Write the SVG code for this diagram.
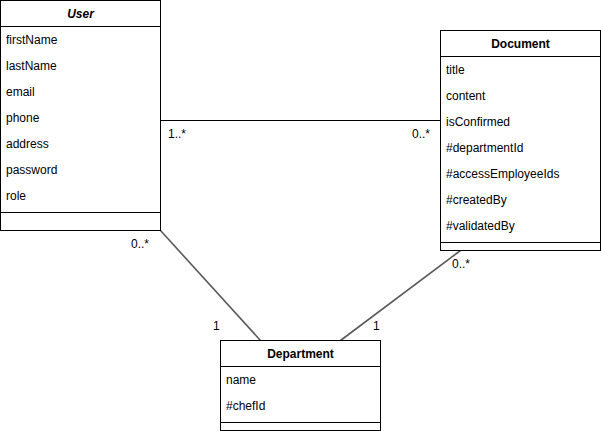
<svg xmlns="http://www.w3.org/2000/svg" width="601" height="431" viewBox="0 0 601 431">
<style>
.box{fill:#fff;stroke:#000;stroke-width:1}
.sep{stroke:#000;stroke-width:1}
.t{font-family:"Liberation Sans",Arial,sans-serif;font-size:12px;fill:#000}
.title{font-weight:bold;text-anchor:middle}
.conn{stroke:#000;stroke-width:1;fill:none}
.diag{stroke:#5a5a5a;stroke-width:1.6}
</style>
<rect width="601" height="431" fill="#fff"/>
<g id="connectors">
<line class="conn" x1="160.5" y1="120.5" x2="440.5" y2="120.5"/>
<line class="conn diag" x1="160.5" y1="230.5" x2="260.5" y2="340.5"/>
<line class="conn diag" x1="460.5" y1="250.5" x2="340.5" y2="340.5"/>
<text class="t" x="168" y="138">1..*</text>
<text class="t" x="412" y="138">0..*</text>
<text class="t" x="131" y="248">0..*</text>
<text class="t" x="213" y="330">1</text>
<text class="t" x="373" y="330">1</text>
<text class="t" x="452" y="268">0..*</text>
</g>
<g id="user">
<rect class="box" x="0.5" y="0.5" width="160" height="230"/>
<line class="sep" x1="0.5" y1="26.5" x2="160.5" y2="26.5"/>
<line class="sep" x1="0.5" y1="212.5" x2="160.5" y2="212.5"/>
<text class="t title" x="80.5" y="18" font-style="italic">User</text>
<text class="t" x="6" y="44">firstName</text>
<text class="t" x="6" y="70">lastName</text>
<text class="t" x="6" y="96">email</text>
<text class="t" x="6" y="122">phone</text>
<text class="t" x="6" y="148">address</text>
<text class="t" x="6" y="174">password</text>
<text class="t" x="6" y="200">role</text>
</g>
<g id="document">
<rect class="box" x="440.5" y="30.5" width="160" height="220"/>
<line class="sep" x1="440.5" y1="56.5" x2="600.5" y2="56.5"/>
<line class="sep" x1="440.5" y1="242.5" x2="600.5" y2="242.5"/>
<text class="t title" x="520.5" y="48">Document</text>
<text class="t" x="446" y="74">title</text>
<text class="t" x="446" y="100">content</text>
<text class="t" x="446" y="126">isConfirmed</text>
<text class="t" x="446" y="152">#departmentId</text>
<text class="t" x="446" y="178">#accessEmployeeIds</text>
<text class="t" x="446" y="204">#createdBy</text>
<text class="t" x="446" y="230">#validatedBy</text>
</g>
<g id="department">
<rect class="box" x="220.5" y="340.5" width="160" height="90"/>
<line class="sep" x1="220.5" y1="366.5" x2="380.5" y2="366.5"/>
<line class="sep" x1="220.5" y1="422.5" x2="380.5" y2="422.5"/>
<text class="t title" x="300.5" y="358">Department</text>
<text class="t" x="226" y="384">name</text>
<text class="t" x="226" y="410">#chefId</text>
</g>
</svg>
